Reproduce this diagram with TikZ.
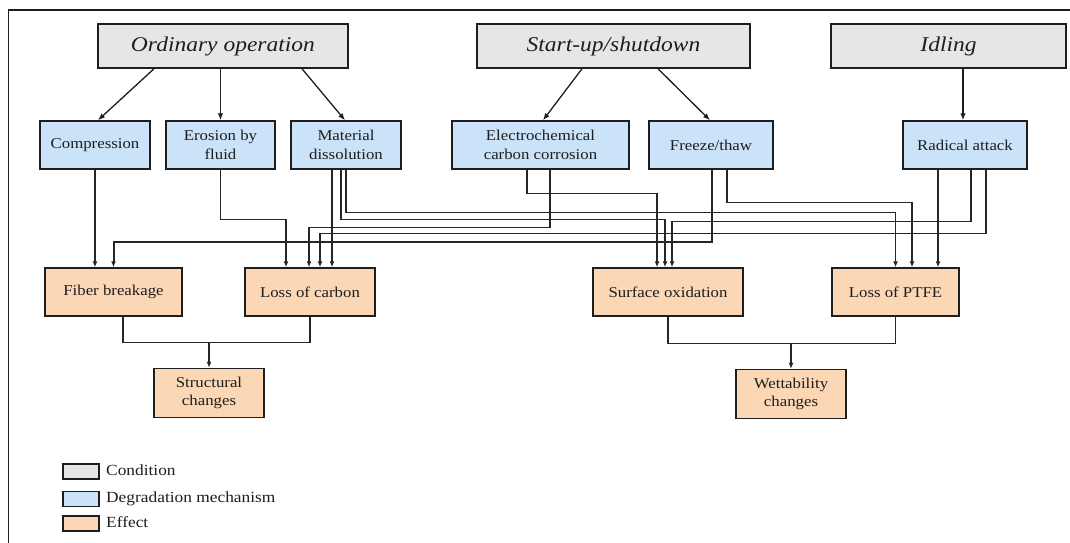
\documentclass[tikz,border=0pt]{standalone}
\usepackage{fontspec}
\setmainfont{Liberation Serif}[FakeStretch=1.12]
\usetikzlibrary{arrows.meta,calc}
\definecolor{condfill}{HTML}{E6E6E6}
\definecolor{mechfill}{HTML}{CAE3F8}
\definecolor{efffill}{HTML}{FBD7B5}
\definecolor{ink}{HTML}{1E1E1E}
\definecolor{wirecol}{HTML}{262626}
\begin{document}
\begin{tikzpicture}[x=1pt,y=-1pt,
  box/.style={draw=ink, line width=1.5pt, inner sep=0pt, align=center, text=ink},
  cond/.style={box, fill=condfill, minimum height=44pt, font=\fontsize{21}{24}\selectfont\itshape},
  mech/.style={box, fill=mechfill, minimum height=48pt, font=\fontsize{15}{18.5}\selectfont},
  eff/.style={box, fill=efffill, minimum height=48pt, font=\fontsize{15}{18.5}\selectfont},
  wire/.style={draw=wirecol, line width=1.2pt},
  tip/.style={wire, -{Latex[length=6pt,width=5pt]}},
  toparrow/.style={draw=ink, line width=1.3pt, -{Latex[length=7pt,width=5.5pt]}},
  legbox/.style={draw=ink, line width=1.4pt, minimum width=36pt, minimum height=15pt, inner sep=0pt},
  legtext/.style={anchor=west, inner sep=0pt, text=ink, text height=10pt, text depth=3pt, font=\fontsize{15.5}{18}\selectfont}
]
\useasboundingbox[fill=white] (0,0) rectangle (1070,542);
\draw[draw=ink, line width=1.5pt] (8.5,560) -- (8.5,10) -- (1080,10);

% conditions
\node[cond, minimum width=250pt] (ord) at (223,46) {Ordinary operation};
\node[cond, minimum width=273pt] (start) at (613.5,46) {Start-up/shutdown};
\node[cond, minimum width=235pt] (idle) at (948.5,46) {Idling};

% mechanisms
\node[mech, minimum width=110pt] (comp) at (95,145) {Compression};
\node[mech, minimum width=109pt] (eros) at (220.5,145) {Erosion by\\fluid};
\node[mech, minimum width=110pt] (mat) at (346,145) {Material\\dissolution};
\node[mech, minimum width=177pt] (elec) at (540.5,145) {Electrochemical\\carbon corrosion};
\node[mech, minimum width=124pt] (frz) at (711,145) {Freeze/thaw};
\node[mech, minimum width=124pt] (rad) at (965,145) {Radical attack};

% effects
\node[eff, minimum width=137pt] (fib) at (113.5,292) {Fiber breakage};
\node[eff, minimum width=130pt] (loc) at (310,292) {Loss of carbon};
\node[eff, minimum width=150pt] (surf) at (668,292) {Surface oxidation};
\node[eff, minimum width=127pt] (ptfe) at (895.5,292) {Loss of PTFE};
\node[eff, minimum width=110pt, minimum height=49pt] (struct) at (209,393) {Structural\\changes};
\node[eff, minimum width=110pt, minimum height=49pt] (wett) at (791,394) {Wettability\\changes};

% condition -> mechanism
\draw[toparrow] ([xshift=-69pt]ord.south) -- ([xshift=3pt]comp.north);
\draw[toparrow] (eros.north |- ord.south) -- (eros.north);
\draw[toparrow] ([xshift=79pt]ord.south) -- ([xshift=-1pt]mat.north);
\draw[toparrow] ([xshift=-31.5pt]start.south) -- ([xshift=2.5pt]elec.north);
\draw[toparrow] ([xshift=44.5pt]start.south) -- ([xshift=-1pt]frz.north);
\coordinate (radin) at ([xshift=-2pt]rad.north);
\draw[toparrow] (radin |- idle.south) -- (radin);

% mechanism -> effect
\draw[tip] (comp.south) -- (comp.south |- fib.north);
\draw[tip, line width=2pt] ([xshift=1pt]frz.south) -- ++(0,72) -| (fib.north);
\draw[tip] (eros.south) -- ++(0,50) -| ([xshift=-24pt]loc.north);
\draw[tip] ([xshift=9.5pt]elec.south) -- ++(0,58) -| ([xshift=-1pt]loc.north);
\draw[tip] ([xshift=21pt]rad.south) -- ++(0,64) -| ([xshift=10pt]loc.north);
\coordinate (m1) at ([xshift=-14pt]mat.south);
\draw[tip] (m1) -- (m1 |- loc.north);
\draw[tip] ([xshift=-13.5pt]elec.south) -- ++(0,24) -| ([xshift=-11pt]surf.north);
\draw[tip] ([xshift=-5pt]mat.south) -- ++(0,50) -| ([xshift=-3pt]surf.north);
\draw[tip] ([xshift=6pt]rad.south) -- ++(0,52) -| ([xshift=4pt]surf.north);
\draw[tip] (mat.south) -- ++(0,43) -| (ptfe.north);
\draw[tip] ([xshift=16pt]frz.south) -- ++(0,33) -| ([xshift=16.5pt]ptfe.north);
\coordinate (r1) at ([xshift=-27pt]rad.south);
\draw[tip] (r1) -- (r1 |- ptfe.north);

% effect -> final effect
\draw[wire] ([xshift=9.5pt]fib.south) -- ++(0,26) coordinate (j1) -| (loc.south);
\draw[tip] (j1 -| struct.north) -- (struct.north);
\draw[wire, line width=1.8pt] (surf.south) -- ++(0,27) coordinate (j2);
\draw[wire] (j2) -| (ptfe.south);
\draw[tip] (j2 -| wett.north) -- (wett.north);

% legend
\node[legbox, fill=condfill, line width=1.8pt] (lc) at (81,471.5) {};
\node[legtext] (lct) at (106,471.5) {Condition};
\node[legbox, fill=mechfill] (lm) at (81,499) {};
\node[legtext] (lmt) at (106,499) {Degradation mechanism};
\node[legbox, fill=efffill] (le) at (81,523.5) {};
\node[legtext] (let) at (106,523.5) {Effect};
\end{tikzpicture}
\end{document}
